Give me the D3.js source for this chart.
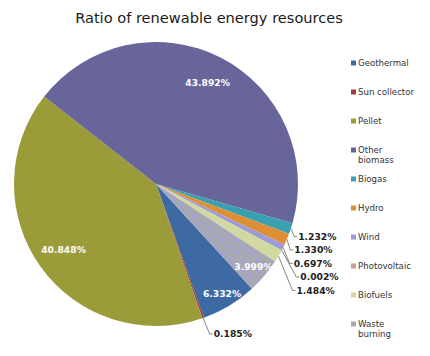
<!DOCTYPE html>
<html><head><meta charset="utf-8">
<script src="https://cdn.jsdelivr.net/npm/d3@7"></script>
<style>html,body{margin:0;padding:0;background:#fff;}svg{display:block;}</style>
</head><body>
<script>
const categories = ["Geothermal","Sun collector","Pellet","Other biomass","Biogas","Hydro","Wind","Photovoltaic","Biofuels","Waste burning"];
const values = [6.332, 0.185, 40.848, 43.892, 1.232, 1.330, 0.697, 0.002, 1.484, 3.999];
const colors = ["#3e6aa3","#a33b3e","#9c9b3a","#67659a","#3aa0b0","#de8f35","#9b9bd6","#c89ea0","#d3d8a0","#a8a8b2"];
const legendLines = [["Geothermal"],["Sun collector"],["Pellet"],["Other","biomass"],["Biogas"],["Hydro"],["Wind"],["Photovoltaic"],["Biofuels"],["Waste","burning"]];
const title = "Ratio of renewable energy resources";

const W = 430, H = 356;
const cx = 156, cy = 184, r = 142;
const startDeg = 137.5;
const FONT = "DejaVu Sans, Verdana, sans-serif";

const svg = d3.select("body").append("svg").attr("width", W).attr("height", H);
const defs = svg.append("defs");
const pat = defs.append("pattern").attr("id","waste").attr("patternUnits","userSpaceOnUse").attr("width",14).attr("height",12);
pat.append("rect").attr("width",14).attr("height",12).attr("fill","#a8a8b2");
pat.append("path").attr("d","M1,2 L5,1 L6,4 L3,6 Z M8,7 L12,6 L13,10 L9,11 Z").attr("fill","#a3a3dc");

svg.append("text").attr("x", 209).attr("y", 23).attr("text-anchor","middle")
  .attr("font-family",FONT).attr("font-size", 14.6).attr("fill","#1a1a1a")
  .text(title);

const data = categories.map((c,i)=>({name:c, value:values[i], color:colors[i], idx:i}));
const start = startDeg*Math.PI/180;
const pie = d3.pie().value(d=>d.value).sort(null).startAngle(start).endAngle(start+2*Math.PI);
const arcs = pie(data);
const arc = d3.arc().innerRadius(0).outerRadius(r);

const g = svg.append("g").attr("transform",`translate(${cx},${cy})`);
g.selectAll("path.slice").data(arcs).join("path").attr("class","slice")
  .attr("d", arc)
  .attr("fill", d => d.data.name==="Waste burning" ? "url(#waste)" : d.data.color);

const fmt = v => d3.format(".3f")(v) + "%";
const pt = (a, rad) => [rad*Math.sin(a), -rad*Math.cos(a)];

// inside labels
arcs.filter(d=>d.data.value>=3).forEach(d=>{
  const a = (d.startAngle+d.endAngle)/2;
  const rr = d.data.value > 30 ? 0.8*r : 0.9*r;
  const p = pt(a, rr);
  g.append("text").attr("x",p[0]).attr("y",p[1]).attr("text-anchor","middle").attr("dy","0.35em")
    .attr("font-family",FONT).attr("font-weight","bold").attr("font-size",9.2)
    .attr("fill","#fff").text(fmt(d.data.value));
});

// outside labels: centred on a circle of 1.18r, pushed apart when they collide
const LR = 1.18*r, maxY = 150, halfW = 18;
const outs = arcs.filter(d=>d.data.value<3).map(d=>{
  const a = (d.startAngle+d.endAngle)/2;
  const e = pt(a, r);
  let p = pt(a, LR);
  if (p[1] > maxY) { const ang = Math.PI - Math.acos(maxY/LR); p = pt(ang, LR); }
  return {d, a, e, x:p[0], y0:p[1], y:p[1]};
});
const right = outs.filter(o=>o.x>0 && o.y0<120).sort((a,b)=>a.y0-b.y0);
for (let i=1;i<right.length;i++){ if (right[i].y < right[i-1].y+13.5) right[i].y = right[i-1].y+13.5; }
outs.forEach(o=>{
  const lx = o.x + Math.min(o.y-o.y0, 13);
  const left = lx - halfW;
  g.append("polyline").attr("points",[[o.e[0],o.e[1]],[left-3,o.y],[left,o.y]].map(q=>q.join(",")).join(" "))
    .attr("fill","none").attr("stroke","#666").attr("stroke-width",0.8);
  g.append("text").attr("x",left+1).attr("y",o.y).attr("dy","0.35em")
    .attr("font-family",FONT).attr("font-weight","bold").attr("font-size",9.2)
    .attr("fill","#222").text(fmt(o.d.data.value));
});

// legend
const lg = svg.append("g");
data.forEach((d,i)=>{
  const y = 63 + i*29;
  lg.append("rect").attr("x",351).attr("y",y-2.5).attr("width",5).attr("height",5)
    .attr("fill", d.name==="Waste burning" ? "#a8a8b2" : d.color);
  legendLines[i].forEach((t,j)=>{
    lg.append("text").attr("x",358).attr("y",y+j*10).attr("dy","0.35em")
      .attr("font-family",FONT).attr("font-size",8.6).attr("fill","#333").text(t);
  });
});
</script>
</body></html>
